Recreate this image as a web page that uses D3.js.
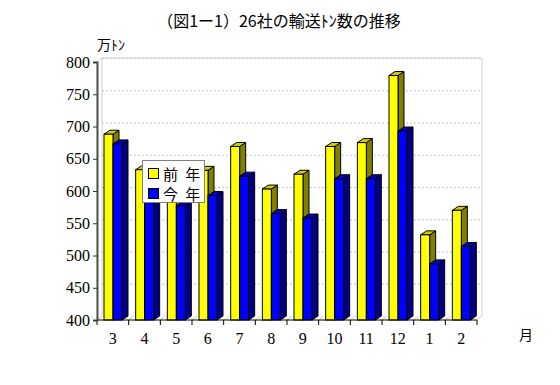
<!DOCTYPE html>
<html>
<head>
<meta charset="utf-8">
<script src="https://cdn.jsdelivr.net/npm/d3@7"></script>
<style>
  body { margin: 0; background: #fff; }
  svg { display: block; }
</style>
</head>
<body>
<svg id="chart" width="560" height="385"></svg>
<script>
// data (万トン)
const months = ["3", "4", "5", "6", "7", "8", "9", "10", "11", "12", "1", "2"];
const prevYear = [688, 633, 625, 632, 669, 603, 626, 669, 675, 779, 532, 570];
const thisYear = [673, 598, 577, 593, 623, 565, 558, 619, 619, 693, 487, 514];
const yTicks = [400, 450, 500, 550, 600, 650, 700, 750, 800];
const seriesNames = ["前 年", "今 年"];

const svg = d3.select("#chart");
const serif = "'Liberation Serif', 'DejaVu Serif', serif";
const jp = "'Noto Sans CJK JP', sans-serif";

const plotLeft = 97, plotRight = 477, plotBottom = 320, plotTop = 62;
const wallDx = 5, wallDy = 4;   // back wall offset
const depthX = 6, depthY = 4;   // bar depth

const x = d3.scaleBand().domain(months).range([plotLeft, plotRight]);
const y = d3.scaleLinear().domain([400, 800]).range([plotBottom, plotTop]);

svg.append("rect").attr("width", 560).attr("height", 385).attr("fill", "#fff");

// back wall
svg.append("path")
  .attr("d", `M${plotLeft + wallDx},${plotTop - wallDy}H${plotRight + wallDx}V${plotBottom - wallDy}`)
  .attr("fill", "none").attr("stroke", "#d0d0d0");
svg.append("path")
  .attr("d", `M${plotLeft},${plotTop}L${plotLeft + wallDx},${plotTop - wallDy}V${plotBottom - wallDy}L${plotLeft},${plotBottom}Z`)
  .attr("fill", "#fff").attr("stroke", "#d0d0d0");

// grid lines on the wall
svg.append("g")
  .selectAll("line")
  .data(yTicks.slice(1))
  .join("line")
    .attr("x1", plotLeft + wallDx).attr("x2", plotRight + wallDx)
    .attr("y1", d => y(d) - wallDy + 0.5).attr("y2", d => y(d) - wallDy + 0.5)
    .attr("stroke", "#c8c8c8")
    .attr("stroke-dasharray", "2,2");

// floor diagonals
const boundaries = months.map(m => x(m)).concat([plotRight]);
svg.append("g")
  .selectAll("line")
  .data(boundaries)
  .join("line")
    .attr("x1", d => d).attr("y1", plotBottom)
    .attr("x2", d => d + wallDx).attr("y2", plotBottom - wallDy)
    .attr("stroke", "#c8c8c8");

// 3D bars
const series = [
  { values: prevYear, offset: 7, front: "#ffff00", topc: "#cccc00", side: "#808000" },
  { values: thisYear, offset: 16, front: "#0000ff", topc: "#0000cc", side: "#000080" }
];
const barW = 9;

const bars = svg.append("g").attr("stroke", "#000").attr("stroke-width", 1);
months.forEach((m, i) => {
  series.forEach(s => {
    const x0 = x(m) + s.offset;
    const x1 = x0 + barW;
    const yt = y(s.values[i]);
    const g = bars.append("g");
    g.append("path")
      .attr("d", `M${x1},${yt}L${x1 + depthX},${yt - depthY}V${plotBottom - depthY}L${x1},${plotBottom}Z`)
      .attr("fill", s.side);
    g.append("path")
      .attr("d", `M${x0},${yt}L${x0 + depthX},${yt - depthY}H${x1 + depthX}L${x1},${yt}Z`)
      .attr("fill", s.topc);
    g.append("rect")
      .attr("x", x0).attr("y", yt)
      .attr("width", barW).attr("height", plotBottom - yt)
      .attr("fill", s.front);
  });
});

// x axis
const xAxis = svg.append("g").attr("transform", `translate(0,${plotBottom})`);
xAxis.append("line").attr("x1", plotLeft).attr("x2", plotRight).attr("stroke", "#000");
xAxis.selectAll("line.tk")
  .data(boundaries)
  .join("line")
    .attr("class", "tk")
    .attr("x1", d => d).attr("x2", d => d)
    .attr("y1", 0).attr("y2", 5)
    .attr("stroke", "#000");
xAxis.selectAll("text")
  .data(months)
  .join("text")
    .attr("x", d => x(d) + x.bandwidth() / 2)
    .attr("y", 24)
    .attr("text-anchor", "middle")
    .attr("font-family", serif)
    .attr("font-size", 16)
    .text(d => d);

// y axis
const yAxis = svg.append("g")
  .attr("transform", `translate(${plotLeft},0)`)
  .call(d3.axisLeft(y).tickValues(yTicks).tickSize(4).tickPadding(3))
  .attr("font-family", serif)
  .attr("font-size", 16);
yAxis.select(".domain").attr("stroke", "#505050").attr("stroke-width", 2);
yAxis.selectAll(".tick line").attr("stroke", "#303030");
yAxis.selectAll(".tick text")
  .style("font-family", serif)
  .attr("fill", "#000");

// titles
svg.append("text")
  .attr("x", 279).attr("y", 27)
  .attr("text-anchor", "middle")
  .attr("font-family", jp)
  .attr("font-size", 16)
  .text("（図1ー1）26社の輸送ﾄﾝ数の推移");
svg.append("text")
  .attr("x", 97).attr("y", 50)
  .attr("font-family", jp)
  .attr("font-size", 14)
  .text("万ﾄﾝ");
svg.append("text")
  .attr("x", 519).attr("y", 340)
  .attr("font-family", jp)
  .attr("font-size", 14)
  .text("月");

// legend
const legend = svg.append("g").attr("transform", "translate(142,160)");
legend.append("rect")
  .attr("x", 0.5).attr("y", 0.5)
  .attr("width", 62).attr("height", 42)
  .attr("fill", "#fff").attr("stroke", "#808080");
series.forEach((s, i) => {
  const row = legend.append("g").attr("transform", `translate(6,${8 + i * 20})`);
  row.append("rect")
    .attr("x", 0.5).attr("y", 0.5)
    .attr("width", 10).attr("height", 10)
    .attr("fill", s.front).attr("stroke", "#000");
  row.append("text")
    .attr("x", 15).attr("y", 12)
    .attr("font-family", jp)
    .attr("font-size", 15)
    .attr("word-spacing", 4)
    .text(seriesNames[i]);
});
</script>
</body>
</html>
